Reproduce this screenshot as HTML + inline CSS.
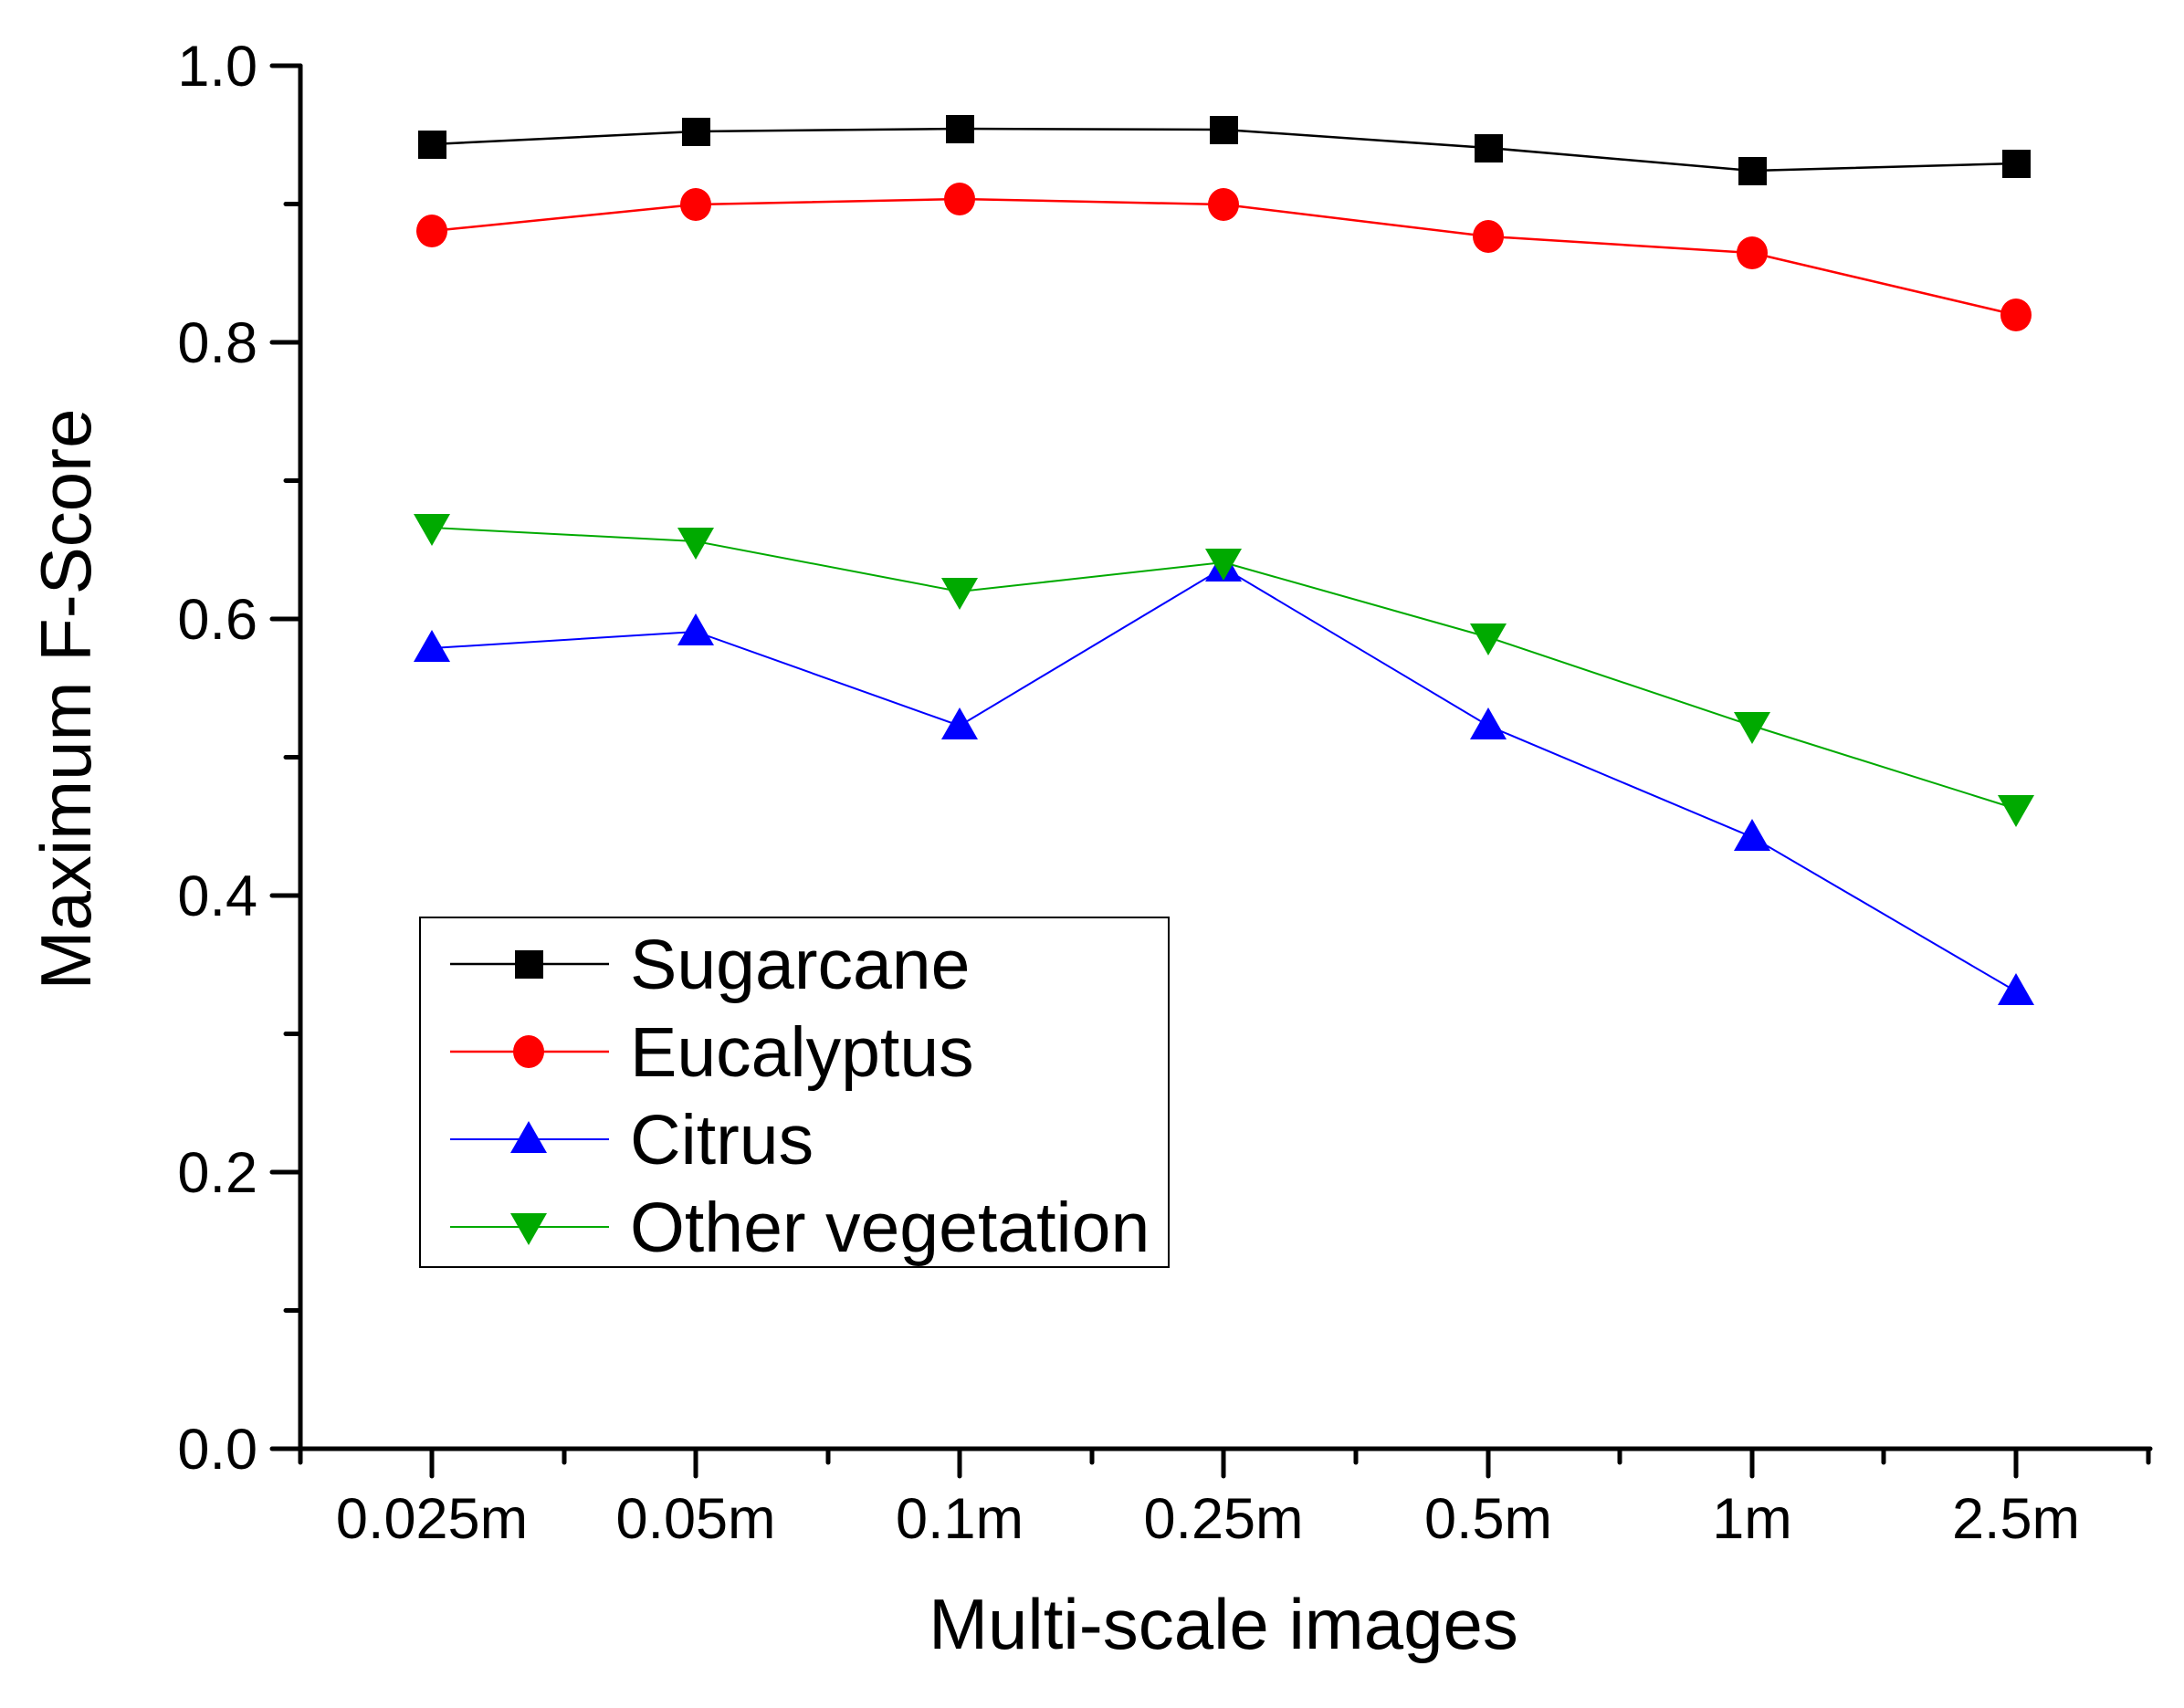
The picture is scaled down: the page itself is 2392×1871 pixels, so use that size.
<!DOCTYPE html>
<html><head><meta charset="utf-8"><style>html,body{margin:0;padding:0;background:#fff}svg{display:block}</style></head>
<body>
<svg width="2392" height="1871" viewBox="0 0 2392 1871" xmlns="http://www.w3.org/2000/svg" font-family="Liberation Sans, Arial, sans-serif">
<rect width="2392" height="1871" fill="#fff"/>
<g stroke="#000" stroke-width="5" fill="none" stroke-linecap="round">
<line x1="329" y1="72" x2="329" y2="1590"/>
<line x1="298" y1="1587" x2="2355" y2="1587"/>
<line x1="298" y1="72" x2="329" y2="72"/>
<line x1="298" y1="375" x2="329" y2="375"/>
<line x1="298" y1="678" x2="329" y2="678"/>
<line x1="298" y1="981" x2="329" y2="981"/>
<line x1="298" y1="1284" x2="329" y2="1284"/>
<line x1="313" y1="223.5" x2="329" y2="223.5"/>
<line x1="313" y1="526.5" x2="329" y2="526.5"/>
<line x1="313" y1="829.5" x2="329" y2="829.5"/>
<line x1="313" y1="1132.5" x2="329" y2="1132.5"/>
<line x1="313" y1="1435.5" x2="329" y2="1435.5"/>
<line x1="473" y1="1587" x2="473" y2="1617"/>
<line x1="762" y1="1587" x2="762" y2="1617"/>
<line x1="1051" y1="1587" x2="1051" y2="1617"/>
<line x1="1340" y1="1587" x2="1340" y2="1617"/>
<line x1="1630" y1="1587" x2="1630" y2="1617"/>
<line x1="1919" y1="1587" x2="1919" y2="1617"/>
<line x1="2208" y1="1587" x2="2208" y2="1617"/>
<line x1="329" y1="1587" x2="329" y2="1602"/>
<line x1="618" y1="1587" x2="618" y2="1602"/>
<line x1="907" y1="1587" x2="907" y2="1602"/>
<line x1="1196" y1="1587" x2="1196" y2="1602"/>
<line x1="1485" y1="1587" x2="1485" y2="1602"/>
<line x1="1774" y1="1587" x2="1774" y2="1602"/>
<line x1="2063" y1="1587" x2="2063" y2="1602"/>
<line x1="2353" y1="1587" x2="2353" y2="1602"/>
</g>
<g font-size="63" text-anchor="end" fill="#000">
<text x="282" y="94">1.0</text>
<text x="282" y="397">0.8</text>
<text x="282" y="700">0.6</text>
<text x="282" y="1003">0.4</text>
<text x="282" y="1306">0.2</text>
<text x="282" y="1609">0.0</text>
</g>
<g font-size="63" text-anchor="middle" fill="#000">
<text x="473" y="1685">0.025m</text>
<text x="762" y="1685">0.05m</text>
<text x="1051" y="1685">0.1m</text>
<text x="1340" y="1685">0.25m</text>
<text x="1630" y="1685">0.5m</text>
<text x="1919" y="1685">1m</text>
<text x="2208" y="1685">2.5m</text>
</g>
<text x="1340" y="1806" font-size="78" text-anchor="middle">Multi-scale images</text>
<text transform="translate(99,766) rotate(-90)" font-size="78" text-anchor="middle">Maximum F-Score</text>
<polyline fill="none" stroke="#000" stroke-width="2.5" points="473,158 762,144 1051,141 1340,142 1630,162 1919,187 2208,179"/>
<polyline fill="none" stroke="#f00" stroke-width="2.5" points="473,253 762,224 1051,218 1340,224 1630,259 1919,277 2208,345"/>
<polyline fill="none" stroke="#00f" stroke-width="2" points="473,710 762,692 1051,795 1340,622 1630,795 1919,917 2208,1086"/>
<polyline fill="none" stroke="#0a0" stroke-width="2" points="473,578 762,593 1051,648 1340,616 1630,698 1919,795 2208,886"/>
<g fill="#000">
<rect x="458" y="143" width="31" height="31"/><rect x="747" y="129" width="31" height="31"/><rect x="1036" y="126" width="31" height="31"/><rect x="1325" y="127" width="31" height="31"/><rect x="1615" y="147" width="31" height="31"/><rect x="1904" y="172" width="31" height="31"/><rect x="2193" y="164" width="31" height="31"/>
</g>
<g fill="#f00">
<ellipse cx="473" cy="253" rx="17" ry="18"/><ellipse cx="762" cy="224" rx="17" ry="18"/><ellipse cx="1051" cy="218" rx="17" ry="18"/><ellipse cx="1340" cy="224" rx="17" ry="18"/><ellipse cx="1630" cy="259" rx="17" ry="18"/><ellipse cx="1919" cy="277" rx="17" ry="18"/><ellipse cx="2208" cy="345" rx="17" ry="18"/>
</g>
<g fill="#00f">
<polygon points="473,690 453,725 493,725"/><polygon points="762,672 742,707 782,707"/><polygon points="1051,775 1031,810 1071,810"/><polygon points="1340,602 1320,637 1360,637"/><polygon points="1630,775 1610,810 1650,810"/><polygon points="1919,897 1899,932 1939,932"/><polygon points="2208,1066 2188,1101 2228,1101"/>
</g>
<g fill="#0a0">
<polygon points="453,563 493,563 473,598"/><polygon points="742,578 782,578 762,613"/><polygon points="1031,633 1071,633 1051,668"/><polygon points="1320,601 1360,601 1340,636"/><polygon points="1610,683 1650,683 1630,718"/><polygon points="1899,780 1939,780 1919,815"/><polygon points="2188,871 2228,871 2208,906"/>
</g>
<rect x="460" y="1005" width="820" height="383" fill="#fff" stroke="#000" stroke-width="2"/>
<line x1="493" y1="1056" x2="667" y2="1056" stroke="#000" stroke-width="2.5"/>
<rect x="564" y="1041" width="31" height="31" fill="#000"/>
<line x1="493" y1="1152" x2="667" y2="1152" stroke="#f00" stroke-width="2.5"/>
<ellipse cx="579" cy="1152" rx="17" ry="18" fill="#f00"/>
<line x1="493" y1="1248" x2="667" y2="1248" stroke="#00f" stroke-width="2"/>
<polygon points="579,1228 559,1263 599,1263" fill="#00f"/>
<line x1="493" y1="1344" x2="667" y2="1344" stroke="#0a0" stroke-width="2"/>
<polygon points="559,1329 599,1329 579,1364" fill="#0a0"/>
<g font-size="77" fill="#000">
<text x="690" y="1083">Sugarcane</text>
<text x="690" y="1179">Eucalyptus</text>
<text x="690" y="1275">Citrus</text>
<text x="690" y="1371">Other vegetation</text>
</g>
</svg>
</body></html>
